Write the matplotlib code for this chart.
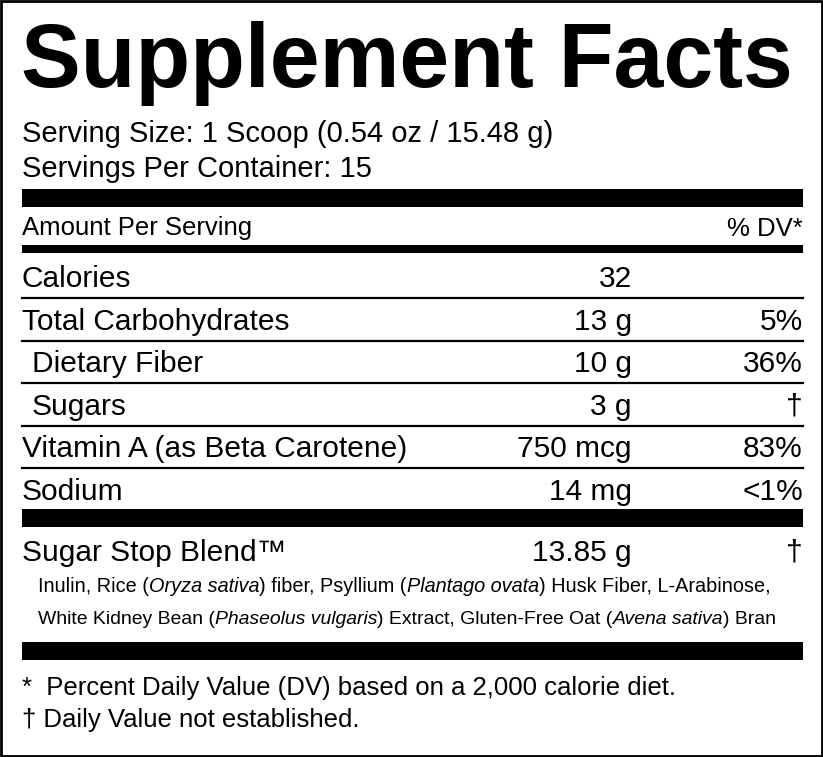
import matplotlib
matplotlib.use("Agg")
import matplotlib.pyplot as plt

W, H = 823, 757
FONT = "Liberation Sans"

title = "Supplement Facts"
serving_lines = ["Serving Size: 1 Scoop (0.54 oz / 15.48 g)", "Servings Per Container: 15"]
header_left, header_right = "Amount Per Serving", "% DV*"
nutrients = ["Calories", "Total Carbohydrates", "Dietary Fiber", "Sugars",
             "Vitamin A (as Beta Carotene)", "Sodium"]
indent = [False, False, True, True, False, False]
amounts = ["32", "13 g", "10 g", "3 g", "750 mcg", "14 mg"]
dvs = ["", "5%", "36%", "†", "83%", "<1%"]
blend_name, blend_amount, blend_dv = "Sugar Stop Blend™", "13.85 g", "†"
ingredients = [
    [("Inulin, Rice (", False), ("Oryza sativa", True), (") fiber, Psyllium (", False),
     ("Plantago ovata", True), (") Husk Fiber, L-Arabinose,", False)],
    [("White Kidney Bean (", False), ("Phaseolus vulgaris", True), (") Extract, Gluten-Free Oat (", False),
     ("Avena sativa", True), (") Bran", False)],
]
footnotes = ["*  Percent Daily Value (DV) based on a 2,000 calorie diet.", "† Daily Value not established."]

fig = plt.figure(figsize=(W/100, H/100), dpi=100)
ax = fig.add_axes([0, 0, 1, 1])
ax.set_xlim(0, W); ax.set_ylim(H, 0); ax.axis("off")
ax.add_patch(plt.Rectangle((1, 1), W-2, H-2, fill=False, lw=2, ec="black"))
r = fig.canvas.get_renderer()
L, R = 22, 803

def bar(y0, y1):
    ax.fill_between([L, R], y0, y1, color="black", lw=0)

def t(x, y, s, size, ha="left", **kw):
    return ax.text(x, y, s, fontsize=size, ha=ha, va="center_baseline", family=FONT, **kw)

t(L - 1, 54, title, 64.5, weight="bold")
for i, s in enumerate(serving_lines):
    t(L, 131 + 35*i, s, 21)
bar(189, 207)
t(L, 226, header_left, 18.5); t(R, 226, header_right, 18.5, ha="right")
bar(245, 253)
RS = 21.5
ys = [276, 319, 361, 404, 446, 489]
for i, (n, a, d) in enumerate(zip(nutrients, amounts, dvs)):
    y = ys[i]
    t(L + (10 if indent[i] else 0), y, n, RS)
    t(632, y, a, RS, ha="right")
    if d:
        t(R, y, d, RS, ha="right")
    if i < len(ys) - 1:
        ax.plot([L, R], [y + 21.5, y + 21.5], color="black", lw=1.6)
bar(509, 527)
t(L, 550, blend_name, RS); t(632, 550, blend_amount, RS, ha="right"); t(R, 550, blend_dv, RS, ha="right")

targets = [(38, 771, 584), (38, 779, 617)]
for parts, (x0, x1, y) in zip(ingredients, targets):
    size = 14
    for _ in range(3):
        x = x0; objs = []
        for s, it in parts:
            o = t(x, y, s, size, style="italic" if it else "normal")
            objs.append(o); x += o.get_window_extent(r).width
        total = x - x0
        for o in objs: o.remove()
        size *= (x1 - x0) / total
    x = x0
    for s, it in parts:
        o = t(x, y, s, size, style="italic" if it else "normal")
        x += o.get_window_extent(r).width
bar(642, 660)
t(L, 685, footnotes[0], 18.5); t(L, 717, footnotes[1], 18.5)

fig.savefig("out.png", dpi=100)
